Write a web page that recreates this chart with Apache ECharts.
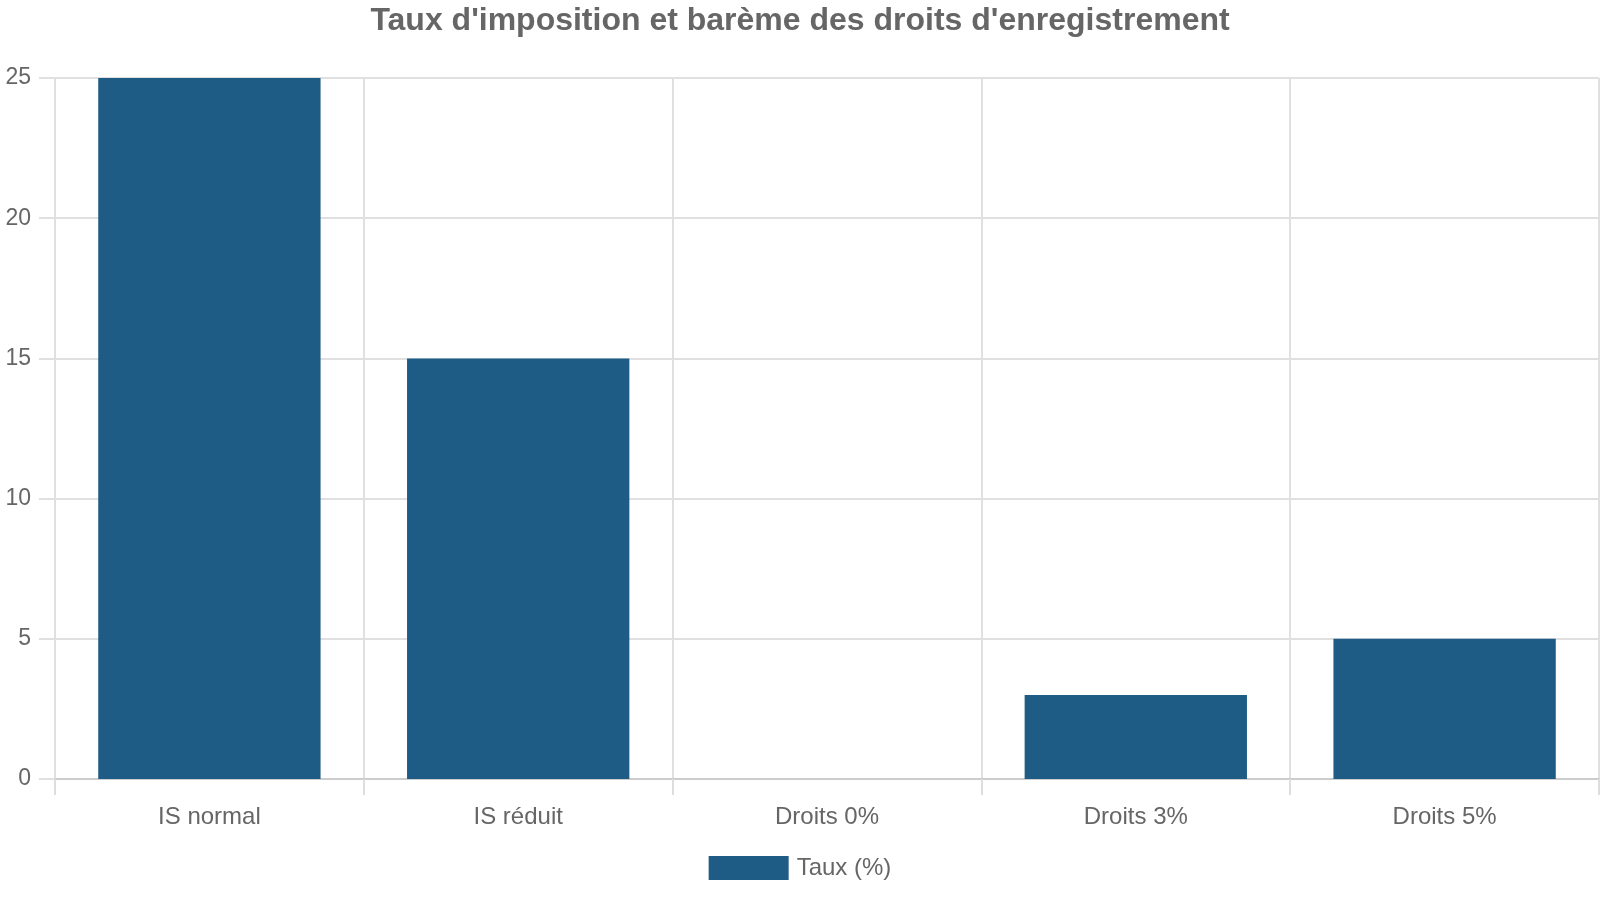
<!DOCTYPE html>
<html>
<head>
<meta charset="utf-8">
<script src="https://cdn.jsdelivr.net/npm/echarts@6/dist/echarts.min.js"></script>
<style>
  html, body { margin: 0; padding: 0; background: #fff; }
  #chart { width: 1600px; height: 900px; }
</style>
</head>
<body>
<div id="chart"></div>
<script>
// données du graphique
var categories = ['IS normal', 'IS réduit', 'Droits 0%', 'Droits 3%', 'Droits 5%'];
var tauxValues = [25, 15, 0, 3, 5];
var seriesName = 'Taux (%)';
var titleText = "Taux d'imposition et barème des droits d'enregistrement";

var myChart = echarts.init(document.getElementById('chart'));

var option = {
    backgroundColor: '#ffffff',
    textStyle: { fontFamily: 'Liberation Sans, Arial, sans-serif' },
    title: {
        text: titleText,
        left: 'center',
        top: 0,
        textStyle: { fontSize: 32, fontWeight: 'bold', color: '#666666' }
    },
    legend: {
        bottom: 15,
        left: 'center',
        icon: 'rect',
        itemWidth: 80,
        itemHeight: 24,
        itemGap: 10,
        textStyle: { fontSize: 24, color: '#666666', padding: [0, 0, 0, 3] },
        data: [seriesName]
    },
    grid: {
        left: 55,
        right: 1,
        top: 78,
        bottom: 121,
        containLabel: false
    },
    xAxis: {
        type: 'category',
        data: categories,
        boundaryGap: true,
        axisLine: { show: true, lineStyle: { color: '#cccccc', width: 2 } },
        axisTick: { show: true, length: 16, lineStyle: { color: '#dddddd', width: 2 } },
        axisLabel: { fontSize: 24, color: '#666666', margin: 26 },
        splitLine: { show: true, lineStyle: { color: '#e0e0e0', width: 2 } }
    },
    yAxis: {
        type: 'value',
        min: 0,
        max: 25,
        interval: 5,
        axisLine: { show: false },
        axisTick: { show: true, length: 16, lineStyle: { color: '#e0e0e0', width: 2 } },
        axisLabel: { fontSize: 23, color: '#666666', margin: 24 },
        splitLine: { show: true, lineStyle: { color: '#e0e0e0', width: 2 } }
    },
    series: [{
        name: seriesName,
        type: 'bar',
        data: tauxValues,
        barWidth: '72%',
        itemStyle: {
            color: '#1f5c85',
            borderWidth: 0
        }
    }]
};

myChart.setOption(option);
</script>
</body>
</html>
